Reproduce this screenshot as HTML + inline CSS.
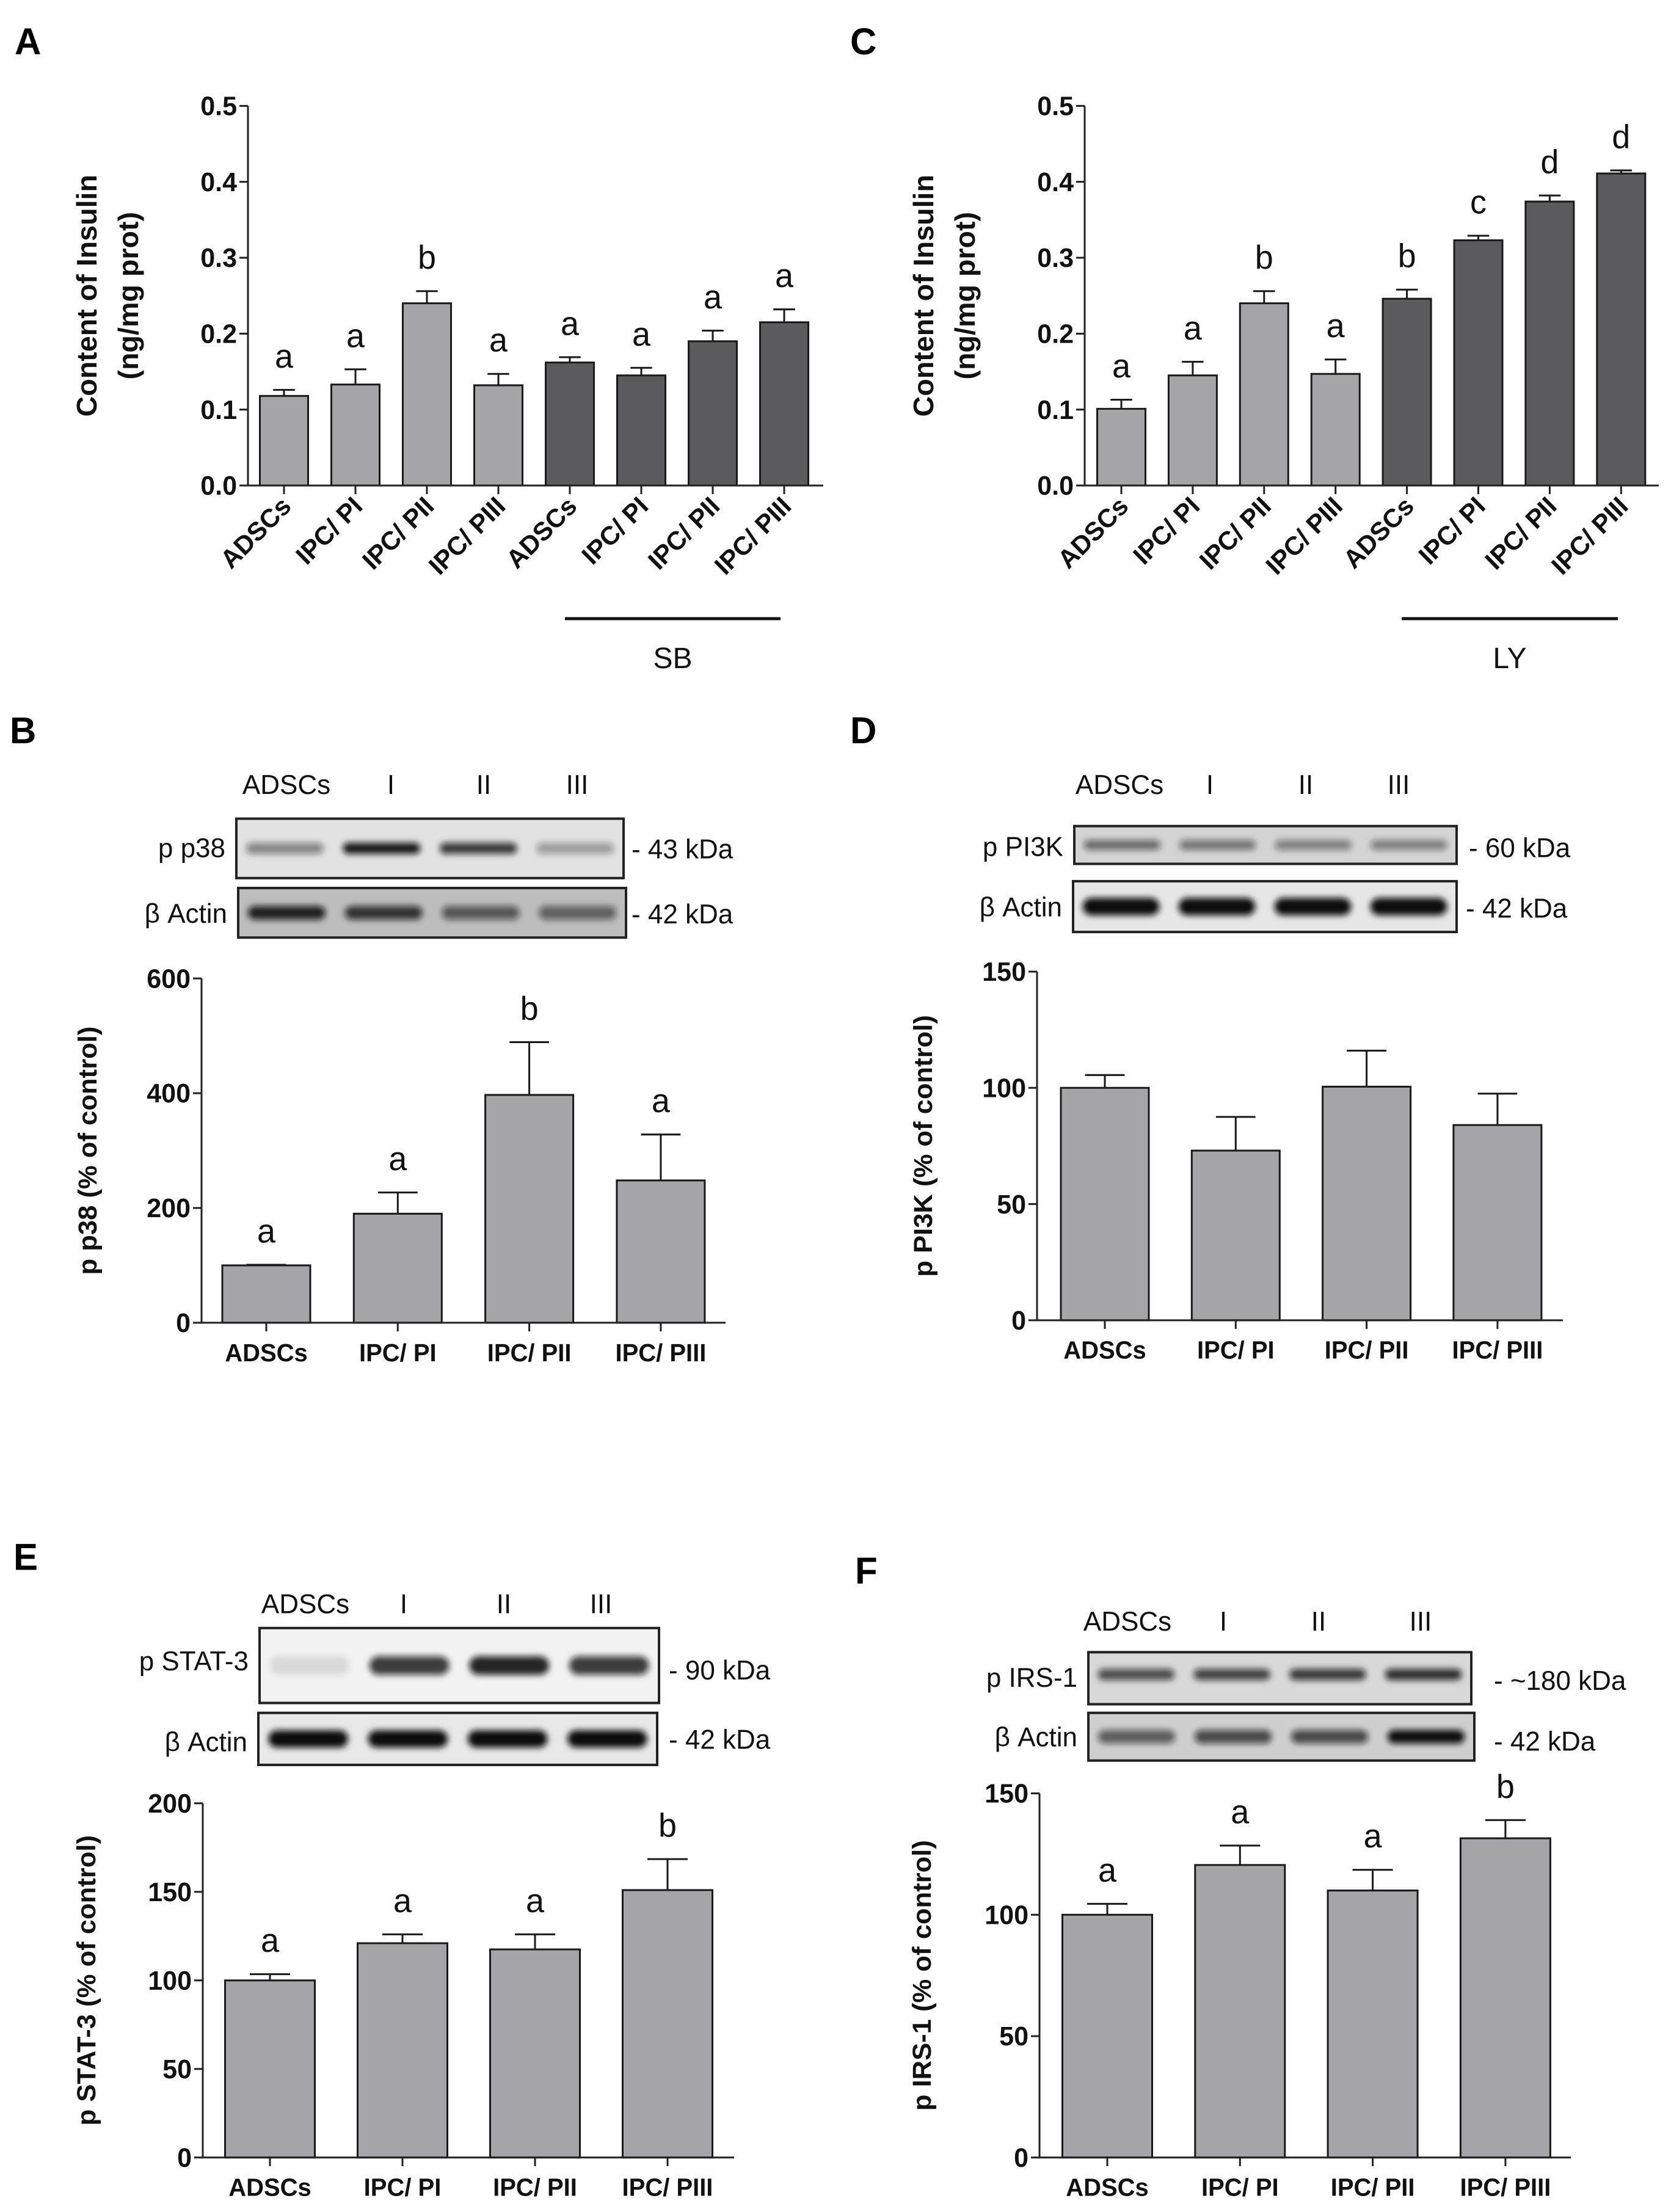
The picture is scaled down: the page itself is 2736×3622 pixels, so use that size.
<!DOCTYPE html>
<html><head><meta charset="utf-8">
<style>
html,body{margin:0;padding:0;background:#fff;}
svg{display:block;}
text{font-family:"Liberation Sans",Arial,sans-serif;}
</style></head>
<body>
<svg id="fig" width="2736" height="3622" viewBox="0 0 2736 3622" xmlns="http://www.w3.org/2000/svg">
<defs>
<filter id="blur" x="-20%" y="-100%" width="140%" height="300%"><feGaussianBlur stdDeviation="5"/></filter>
</defs>
<g id="root" transform="scale(1,1.014)">
<text x="24" y="88" font-size="60" font-weight="bold">A</text>
<text x="1392" y="88" font-size="60" font-weight="bold">C</text>
<text x="16" y="1200" font-size="60" font-weight="bold">B</text>
<text x="1392" y="1200" font-size="60" font-weight="bold">D</text>
<text x="22" y="2535" font-size="60" font-weight="bold">E</text>
<text x="1400" y="2557" font-size="60" font-weight="bold">F</text>
</g>
</svg>
<script>
// ---- Panel A data ----
const catA = ["ADSCs","IPC/ PI","IPC/ PII","IPC/ PIII","ADSCs","IPC/ PI","IPC/ PII","IPC/ PIII"];
const valA = [0.118,0.133,0.240,0.132,0.162,0.145,0.190,0.215];
const errA = [0.008,0.020,0.016,0.015,0.007,0.010,0.014,0.017];
const letA = ["a","a","b","a","a","a","a","a"];
const ticksA = ["0.0","0.1","0.2","0.3","0.4","0.5"];
// ---- Panel C data ----
const catC = ["ADSCs","IPC/ PI","IPC/ PII","IPC/ PIII","ADSCs","IPC/ PI","IPC/ PII","IPC/ PIII"];
const valC = [0.101,0.145,0.240,0.147,0.246,0.323,0.374,0.411];
const errC = [0.012,0.018,0.016,0.019,0.012,0.006,0.008,0.004];
const letC = ["a","a","b","a","b","c","d","d"];
const ticksC = ["0.0","0.1","0.2","0.3","0.4","0.5"];
// ---- Panel B data ----
const catB = ["ADSCs","IPC/ PI","IPC/ PII","IPC/ PIII"];
const valB = [100,190,397,248];
const errB = [1,37,92,80];
const letB = ["a","a","b","a"];
const ticksB = ["0","200","400","600"];
// ---- Panel D data ----
const catD = ["ADSCs","IPC/ PI","IPC/ PII","IPC/ PIII"];
const valD = [100,73,100.5,84];
const errD = [5.5,14.5,15.5,13.5];
const letD = ["","","",""];
const ticksD = ["0","50","100","150"];
// ---- Panel E data ----
const catE = ["ADSCs","IPC/ PI","IPC/ PII","IPC/ PIII"];
const valE = [100,121,117.5,151];
const errE = [3.5,5,8.5,17.5];
const letE = ["a","a","a","b"];
const ticksE = ["0","50","100","150","200"];
// ---- Panel F data ----
const catF = ["ADSCs","IPC/ PI","IPC/ PII","IPC/ PIII"];
const valF = [100,120.5,110,131.5];
const errF = [4.5,8,8.5,7.5];
const letF = ["a","a","a","b"];
const ticksF = ["0","50","100","150"];

const NS="http://www.w3.org/2000/svg";
const root=document.getElementById('root');
function mk(tag,attrs,parent){const e=document.createElementNS(NS,tag);for(const k in attrs)e.setAttribute(k,attrs[k]);(parent||root).appendChild(e);return e;}

function chart(o){
  const g=mk('g',{});
  
  
  const tmin=parseFloat(o.ticks[0]), tmax=parseFloat(o.ticks[o.ticks.length-1]);
  const y=v=>o.y0+(v-tmin)/(tmax-tmin)*(o.y1-o.y0);
  const n=o.cat.length;
  const x=i=>o.xFirst+i*o.step;
  for(let i=0;i<n;i++){
    const top=y(o.val[i]);
    const r=mk('rect',{x:x(i)-o.bw/2,y:top,width:o.bw,height:o.y0-top,fill:(o.dark&&i>=4)?'#5b5b5d':'#a4a4a9',stroke:'#1a1a1a','stroke-width':3},g);
    
    
    const et=y(o.val[i]+o.err[i]);
    const cw=o.bw*0.45;
    const eb=mk('path',{d:`M${x(i)} ${top} V${et} M${x(i)-cw/2} ${et} H${x(i)+cw/2}`,stroke:'#1a1a1a','stroke-width':3,fill:'none'},g);
    
    
    if(o.let[i]){
      const t=mk('text',{x:x(i),y:et-36,'font-size':54,'text-anchor':'middle',fill:'#111'},g);
      t.textContent=o.let[i];
      
      
    }
    mk('line',{x1:x(i),x2:x(i),y1:o.y0,y2:o.y0+14,stroke:'#222','stroke-width':3},g);
    const lab=mk('text',{'font-size':o.rot?42:40,'font-weight':'bold',fill:'#111'},g);
    lab.textContent=o.cat[i];
    
    
    if(o.rot){
      lab.setAttribute('text-anchor','end');
      lab.setAttribute('transform',`translate(${x(i)+14},${o.y0+36}) rotate(-45)`);
    } else {
      lab.setAttribute('text-anchor','middle');
      lab.setAttribute('x',x(i)); lab.setAttribute('y',o.y0+62);
    }
  }
  const ax=mk('path',{d:`M${o.ax} ${o.y1} V${o.y0} H${o.xEnd}`,stroke:'#222','stroke-width':3,fill:'none'},g);
  
  
  for(const tk of o.ticks){
    const v=parseFloat(tk);
    mk('line',{x1:o.ax-14,x2:o.ax,y1:y(v),y2:y(v),stroke:'#222','stroke-width':3},g);
    const t=mk('text',{x:o.ax-18,y:y(v)+15,'font-size':43,'font-weight':'bold','text-anchor':'end',fill:'#111'},g);
    t.textContent=tk;
    
    
  }
  const cy=(o.y0+o.y1)/2;
  o.title.forEach((line,k)=>{
    const t=mk('text',{'font-size':o.tsize||43,'font-weight':'bold','text-anchor':'middle',fill:'#111',transform:`translate(${o.tx+k*68},${cy}) rotate(-90)`},g);
    t.textContent=line;
    
    
  });
}

chart({name:'chart-a',cat:catA,val:valA,err:errA,let:letA,ticks:ticksA,ax:406,y0:784,y1:171,xFirst:465,step:117,bw:79,xEnd:1348,dark:true,rot:true,title:["Content of Insulin","(ng/mg prot)"],tx:158,tsize:46});
chart({name:'chart-c',cat:catC,val:valC,err:errC,let:letC,ticks:ticksC,ax:1776,y0:784,y1:171,xFirst:1836,step:116.9,bw:79,xEnd:2716,dark:true,rot:true,title:["Content of Insulin","(ng/mg prot)"],tx:1528,tsize:46});
chart({name:'chart-b',cat:catB,val:valB,err:errB,let:letB,ticks:ticksB,ax:330,y0:2136,y1:1580,xFirst:436,step:215.3,bw:144,xEnd:1188,title:["p p38 (% of control)"],tx:158});
chart({name:'chart-d',cat:catD,val:valD,err:errD,let:letD,ticks:ticksD,ax:1698,y0:2132,y1:1569,xFirst:1809,step:214.3,bw:144,xEnd:2559,title:["p PI3K (% of control)"],tx:1526});
chart({name:'chart-e',cat:catE,val:valE,err:errE,let:letE,ticks:ticksE,ax:332,y0:3484,y1:2912,xFirst:442,step:217,bw:147,xEnd:1202,title:["p STAT-3 (% of control)"],tx:156});
chart({name:'chart-f',cat:catF,val:valF,err:errF,let:letF,ticks:ticksF,ax:1702,y0:3484,y1:2896,xFirst:1813,step:217.3,bw:147,xEnd:2572,title:["p IRS-1 (% of control)"],tx:1524});

function grp(name,x1,x2,yl,label){
  const l=mk('line',{x1:x1,x2:x2,y1:yl,y2:yl,stroke:'#111','stroke-width':5});
  
  
  const t=mk('text',{x:(x1+x2)/2,y:yl+80,'font-size':48,'text-anchor':'middle',fill:'#111'});
  t.textContent=label;
  
  
}
grp('sb-group',925,1278,999,'SB');
grp('ly-group',2295,2649,999,'LY');

function blot(o){
  const lanes=["ADSCs","I","II","III"];
  lanes.forEach((s,i)=>{
    const t=mk('text',{x:o.lx[i],y:o.ly,'font-size':44,'text-anchor':'middle',fill:'#111'});
    t.textContent=s;
    
    
  });
  o.rows.forEach(r=>{
    const b=mk('rect',{x:r.x1,y:r.y1,width:r.x2-r.x1,height:r.y2-r.y1,fill:r.bg,stroke:'#222','stroke-width':4});
    
    
    const cy=(r.y1+r.y2)/2+(r.off||0);
    const lw=(r.x2-r.x1)/4;
    r.bands.forEach((op,i)=>{
      const cx=r.x1+lw*(i+0.5);
      const e=mk('rect',{x:cx-lw*0.4,y:cy-r.bh/2,width:lw*0.8,height:r.bh,rx:r.bh/2,fill:'#111','fill-opacity':op,filter:'url(#blur)'});
      
      
    });
    const nl=mk('text',{x:r.x1-18,y:r.ny,'font-size':44,'text-anchor':'end',fill:'#111'});
    nl.textContent=r.name;
    
    
    const kl=mk('text',{x:r.kx,y:r.ky,'font-size':44,fill:'#111'});
    kl.textContent=r.kda;
    
    
  });
}
blot({lx:[469,640,792,945],ly:1282,rows:[
 {key:'pp38',x1:387,x2:1021,y1:1322,y2:1418,bg:'#e2e2e2',bands:[0.45,0.95,0.8,0.35],bh:18,name:'p p38',ny:1384,kda:'- 43 kDa',kx:1034,ky:1386},
 {key:'actin-b',x1:390,x2:1025,y1:1434,y2:1514,bg:'#bdbdbd',bands:[0.9,0.8,0.6,0.55],bh:22,name:'β Actin',ny:1490,kda:'- 42 kDa',kx:1034,ky:1491}]});
blot({lx:[1833,1981,2138,2290],ly:1282,rows:[
 {key:'ppi3k',x1:1759,x2:2385,y1:1334,y2:1395,bg:'#d4d4d4',bands:[0.55,0.5,0.45,0.45],bh:16,name:'p PI3K',ny:1382,kda:'- 60 kDa',kx:2405,ky:1384},
 {key:'actin-d',x1:1757,x2:2385,y1:1423,y2:1505,bg:'#e6e6e6',bands:[1,1,1,1],bh:28,name:'β Actin',ny:1480,kda:'- 42 kDa',kx:2400,ky:1482}]});
blot({lx:[500,661,825,984],ly:2605,rows:[
 {key:'pstat3',x1:425,x2:1079,y1:2629,y2:2750,bg:'#f2f2f2',bands:[0.1,0.8,0.9,0.8],bh:30,name:'p STAT-3',ny:2697,kda:'- 90 kDa',kx:1095,ky:2712},
 {key:'actin-e',x1:423,x2:1076,y1:2766,y2:2850,bg:'#e8e8e8',bands:[1,1,1,1],bh:28,name:'β Actin',ny:2828,kda:'- 42 kDa',kx:1095,ky:2824}]});
blot({lx:[1846,2003,2159,2326],ly:2633,rows:[
 {key:'pirs1',x1:1782,x2:2409,y1:2668,y2:2752,bg:'#d8d8d8',bands:[0.7,0.75,0.8,0.85],bh:18,name:'p IRS-1',ny:2724,kda:'- ~180 kDa',kx:2446,ky:2729,off:-6},
 {key:'actin-f',x1:1782,x2:2414,y1:2766,y2:2843,bg:'#cfcfcf',bands:[0.6,0.7,0.7,1],bh:22,name:'β Actin',ny:2820,kda:'- 42 kDa',kx:2446,ky:2827}]});
</script>
</body></html>
